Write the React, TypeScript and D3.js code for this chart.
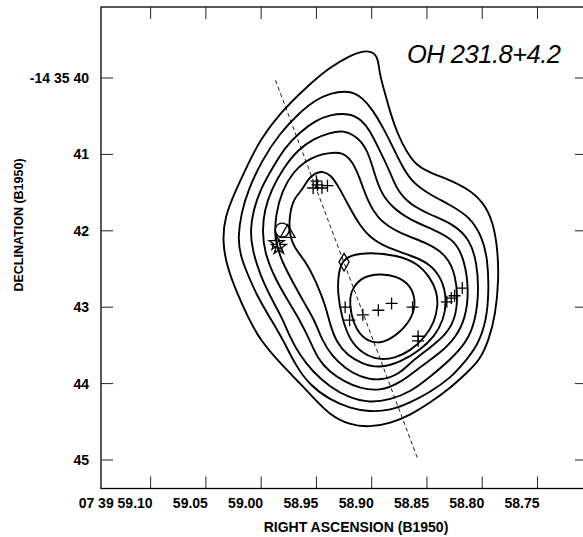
import * as d3 from "d3";
import { useEffect, useRef } from "react";

// RA in seconds (07h39m..), Dec in arcsec (-14d35m..)
const raTicks = [59.1, 59.05, 59.0, 58.95, 58.9, 58.85, 58.8, 58.75];
const raLabels = ["07 39 59.10", "59.05", "59.00", "58.95", "58.90", "58.85", "58.80", "58.75"];
const decTicks = [40, 41, 42, 43, 44, 45];
const decLabels = ["-14 35 40", "41", "42", "43", "44", "45"];

// contour levels, outermost first
const contour1 = [
  [59.023, 41.47], [59.012, 41.13], [59.001, 40.81], [58.983, 40.46], [58.96, 40.13], [58.938, 39.86],
  [58.92, 39.71], [58.907, 39.64], [58.898, 39.66], [58.894, 39.76], [58.893, 39.94], [58.888, 40.2],
  [58.883, 40.46], [58.877, 40.72], [58.868, 40.98], [58.859, 41.15], [58.847, 41.24], [58.832, 41.32],
  [58.814, 41.44], [58.799, 41.62], [58.79, 41.89], [58.786, 42.25], [58.785, 42.64], [58.788, 43.1],
  [58.794, 43.43], [58.802, 43.69], [58.814, 43.86], [58.829, 44.06], [58.847, 44.25], [58.865, 44.41],
  [58.883, 44.52], [58.902, 44.57], [58.92, 44.54], [58.938, 44.41], [58.953, 44.18], [58.968, 43.95],
  [58.983, 43.73], [59.001, 43.43], [59.012, 43.13], [59.022, 42.81], [59.031, 42.47], [59.035, 42.14],
  [59.033, 41.82],
];
const contour2 = [
  [58.938, 40.2], [58.92, 40.16], [58.908, 40.26], [58.899, 40.42], [58.89, 40.64], [58.881, 40.9],
  [58.872, 41.17], [58.863, 41.37], [58.847, 41.53], [58.829, 41.66], [58.811, 41.82], [58.8, 42.08],
  [58.795, 42.38], [58.794, 42.78], [58.796, 43.17], [58.804, 43.5], [58.816, 43.72], [58.829, 43.93],
  [58.847, 44.11], [58.865, 44.25], [58.883, 44.35], [58.902, 44.37], [58.92, 44.32], [58.938, 44.21],
  [58.956, 44.02], [58.969, 43.76], [58.98, 43.43], [58.992, 43.14], [59.003, 42.87], [59.012, 42.58],
  [59.019, 42.32], [59.021, 42.08], [59.018, 41.77], [59.012, 41.47], [58.999, 41.07], [58.983, 40.72],
  [58.965, 40.45], [58.951, 40.29],
];
const contour3 = [
  [58.938, 40.48], [58.92, 40.46], [58.909, 40.55], [58.902, 40.68], [58.893, 40.94], [58.883, 41.24],
  [58.877, 41.47], [58.865, 41.66], [58.847, 41.79], [58.825, 41.92], [58.811, 42.12], [58.805, 42.41],
  [58.803, 42.78], [58.806, 43.17], [58.814, 43.46], [58.829, 43.69], [58.847, 43.91], [58.865, 44.11],
  [58.883, 44.21], [58.902, 44.25], [58.92, 44.19], [58.938, 44.04], [58.953, 43.85], [58.965, 43.63],
  [58.974, 43.39], [58.981, 43.14], [58.99, 42.91], [59.001, 42.58], [59.008, 42.25], [59.01, 41.99],
  [59.007, 41.73], [59.001, 41.47], [58.99, 41.18], [58.978, 40.9], [58.965, 40.71], [58.951, 40.56],
];
const contour4 = [
  [58.938, 40.72], [58.926, 40.68], [58.913, 40.77], [58.904, 40.94], [58.899, 41.17], [58.893, 41.47],
  [58.882, 41.69], [58.865, 41.86], [58.843, 41.99], [58.825, 42.12], [58.816, 42.38], [58.812, 42.78],
  [58.815, 43.14], [58.824, 43.4], [58.838, 43.6], [58.856, 43.78], [58.874, 43.99], [58.893, 44.1],
  [58.911, 44.06], [58.924, 43.98], [58.938, 43.85], [58.949, 43.67], [58.956, 43.43], [58.965, 43.17],
  [58.976, 42.91], [58.988, 42.61], [58.997, 42.28], [58.999, 41.99], [58.997, 41.73], [58.991, 41.47],
  [58.98, 41.18], [58.967, 40.94], [58.952, 40.79],
];
const contour5 = [
  [58.938, 40.98], [58.926, 40.97], [58.917, 41.1], [58.911, 41.3], [58.904, 41.6], [58.894, 41.86],
  [58.874, 42.04], [58.849, 42.16], [58.832, 42.32], [58.824, 42.58], [58.822, 42.91], [58.825, 43.17],
  [58.833, 43.36], [58.847, 43.53], [58.865, 43.72], [58.874, 43.87], [58.893, 43.97], [58.911, 43.91],
  [58.924, 43.8], [58.936, 43.64], [58.945, 43.43], [58.951, 43.19], [58.96, 42.97], [58.97, 42.71],
  [58.981, 42.41], [58.988, 42.12], [58.987, 41.79], [58.981, 41.47], [58.971, 41.23], [58.96, 41.09],
  [58.949, 41.01],
];
const contour6 = [
  [58.963, 41.47], [58.958, 41.33], [58.951, 41.24], [58.944, 41.22], [58.937, 41.27], [58.93, 41.42],
  [58.922, 41.64], [58.913, 41.88], [58.902, 42.09], [58.885, 42.23], [58.865, 42.32], [58.847, 42.43],
  [58.836, 42.64], [58.832, 42.91], [58.835, 43.17], [58.843, 43.38], [58.856, 43.56], [58.874, 43.72],
  [58.893, 43.8], [58.909, 43.74], [58.922, 43.63], [58.932, 43.46], [58.938, 43.21], [58.942, 42.97],
  [58.949, 42.71], [58.959, 42.41], [58.97, 42.23], [58.975, 42.02], [58.974, 41.75], [58.97, 41.57],
];
const contour7 = [
  [58.927, 42.41], [58.92, 42.32], [58.902, 42.28], [58.877, 42.32], [58.859, 42.42], [58.847, 42.61],
  [58.841, 42.8], [58.84, 42.97], [58.843, 43.19], [58.852, 43.4], [58.865, 43.57], [58.879, 43.67],
  [58.894, 43.69], [58.908, 43.61], [58.92, 43.43], [58.927, 43.14], [58.931, 42.81], [58.93, 42.55],
];
const contour8 = [
  [58.917, 42.74], [58.908, 42.6], [58.893, 42.56], [58.877, 42.59], [58.865, 42.71], [58.86, 42.91],
  [58.863, 43.13], [58.874, 43.33], [58.89, 43.48], [58.904, 43.45], [58.914, 43.3], [58.919, 43.08],
  [58.92, 42.87],
];
const contours = [contour1, contour2, contour3, contour4, contour5, contour6, contour7, contour8];

// maser spots
const plusPoints = [
  [58.95, 41.35], [58.949, 41.4], [58.953, 41.44], [58.945, 41.44], [58.94, 41.41],
  [58.924, 43.0], [58.92, 43.17], [58.908, 43.1], [58.894, 43.04], [58.882, 42.95], [58.863, 43.0],
  [58.858, 43.38], [58.858, 43.44], [58.832, 42.93], [58.828, 42.88], [58.825, 42.85], [58.818, 42.75],
];
const circlePoint = [58.981, 41.99];
const trianglePoint = [58.976, 42.03];
const starPoints = [[58.986, 42.16], [58.984, 42.21]];
const diamondPoint = [58.925, 42.41];
const axisLine = [[58.987, 40.03], [58.858, 45.0]];

const W = 583, H = 537;

export default function App() {
  const ref = useRef<SVGSVGElement>(null);
  useEffect(() => {
    const svg = d3.select(ref.current);
    svg.selectAll("*").remove();

    // frame runs a little past the right edge of the page
    const left = 101, right = 587, top = 7, bottom = 488.5;
    const x = d3.scaleLinear().domain([59.1449, 58.7052]).range([left, right]);
    const y = d3.scaleLinear().domain([39.0707, 45.373]).range([top, bottom]);
    const font = "'Liberation Sans', Arial, Helvetica, sans-serif";

    svg.append("rect").attr("width", W).attr("height", H).attr("fill", "#fff");

    const clip = svg.append("defs").append("clipPath").attr("id", "plotclip");
    clip.append("rect").attr("x", left).attr("y", top).attr("width", right - left).attr("height", bottom - top);
    const g = svg.append("g").attr("clip-path", "url(#plotclip)");

    // contours
    const line = d3.line<number[]>()
      .x((d) => x(d[0]))
      .y((d) => y(d[1]))
      .curve(d3.curveBasisClosed);
    g.selectAll("path.contour")
      .data(contours)
      .join("path")
      .attr("class", "contour")
      .attr("d", (d) => line(d))
      .attr("fill", "none")
      .attr("stroke", "#000")
      .attr("stroke-width", 1.9);

    // dashed axis
    g.append("line")
      .attr("x1", x(axisLine[0][0])).attr("y1", y(axisLine[0][1]))
      .attr("x2", x(axisLine[1][0])).attr("y2", y(axisLine[1][1]))
      .attr("stroke", "#000").attr("stroke-width", 0.9)
      .attr("stroke-dasharray", "4,3");

    // markers
    const mk = g.append("g").attr("fill", "none").attr("stroke", "#000").attr("stroke-width", 1.3);
    plusPoints.forEach((p) => {
      const cx = x(p[0]), cy = y(p[1]);
      mk.append("path").attr("d", `M${cx - 6},${cy}H${cx + 6}M${cx},${cy - 6}V${cy + 6}`);
    });
    mk.append("circle").attr("cx", x(circlePoint[0])).attr("cy", y(circlePoint[1])).attr("r", 7);
    mk.append("path")
      .attr("d", d3.symbol(d3.symbolTriangle, 95)())
      .attr("transform", `translate(${x(trianglePoint[0])},${y(trianglePoint[1])})`);
    starPoints.forEach((p) => {
      mk.append("path")
        .attr("d", d3.symbol(d3.symbolStar, 70)())
        .attr("transform", `translate(${x(p[0])},${y(p[1])})`);
    });
    mk.append("path")
      .attr("d", d3.symbol(d3.symbolDiamond, 90)())
      .attr("transform", `translate(${x(diamondPoint[0])},${y(diamondPoint[1])})`);

    // frame
    svg.append("rect")
      .attr("x", left).attr("y", top).attr("width", right - left).attr("height", bottom - top)
      .attr("fill", "none").attr("stroke", "#000").attr("stroke-width", 1.3);

    // ticks
    const tk = svg.append("g").attr("stroke", "#222").attr("stroke-width", 1);
    raTicks.forEach((t) => {
      const px = x(t);
      tk.append("line").attr("x1", px).attr("x2", px).attr("y1", bottom).attr("y2", bottom - 12);
      tk.append("line").attr("x1", px).attr("x2", px).attr("y1", top).attr("y2", top + 12);
    });
    decTicks.forEach((t) => {
      const py = y(t);
      tk.append("line").attr("x1", left).attr("x2", left + 12).attr("y1", py).attr("y2", py);
      tk.append("line").attr("x1", right).attr("x2", right - 12).attr("y1", py).attr("y2", py);
    });

    // tick labels
    svg.append("g")
      .selectAll("text")
      .data(raTicks)
      .join("text")
      .attr("x", (d) => x(d) + 2)
      .attr("y", 508)
      .attr("text-anchor", "end")
      .attr("font-family", font)
      .attr("font-weight", "bold")
      .attr("font-size", 14)
      .text((d, i) => raLabels[i]);
    svg.append("g")
      .selectAll("text")
      .data(decTicks)
      .join("text")
      .attr("x", 89)
      .attr("y", (d) => y(d) + 5)
      .attr("text-anchor", "end")
      .attr("font-family", font)
      .attr("font-weight", "bold")
      .attr("font-size", 14)
      .text((d, i) => decLabels[i]);

    // axis titles
    svg.append("text")
      .attr("x", 356).attr("y", 532)
      .attr("text-anchor", "middle")
      .attr("font-family", font).attr("font-weight", "bold").attr("font-size", 14)
      .text("RIGHT ASCENSION (B1950)");
    svg.append("text")
      .attr("transform", "translate(23,225) rotate(-90)")
      .attr("text-anchor", "middle")
      .attr("font-family", font).attr("font-weight", "bold").attr("font-size", 12.5)
      .text("DECLINATION (B1950)");

    // source name
    svg.append("text")
      .attr("x", 407).attr("y", 63)
      .attr("font-family", font).attr("font-style", "italic").attr("font-size", 25.5)
      .attr("letter-spacing", -0.5)
      .text("OH 231.8+4.2");
  }, []);

  return (
    <svg
      ref={ref}
      width={W}
      height={H}
      style={{ position: "absolute", left: 0, top: 0, display: "block" }}
    />
  );
}
